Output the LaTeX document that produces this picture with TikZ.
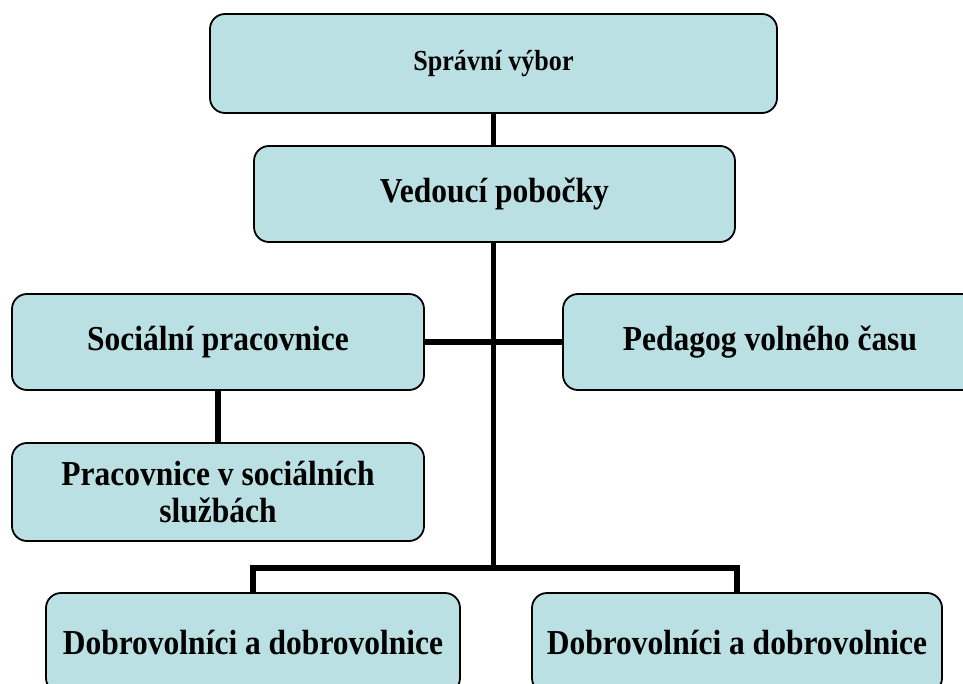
\documentclass[tikz,border=0pt]{standalone}
\usepackage{fontspec}
\newfontfamily\cf[FakeStretch=0.9]{Liberation Serif}
\definecolor{boxfill}{RGB}{187,224,227}
\begin{document}
\begin{tikzpicture}[x=1pt,y=-1pt,
  orgbox/.style={draw=black, line width=1.8pt, fill=boxfill, rounded corners=15pt,
    inner sep=0pt, align=center, font=\cf\bfseries\fontsize{35}{37}\selectfont},
  link/.style={draw=black, line width=5.5pt, line join=miter}]
\useasboundingbox (0,0) rectangle (963,684);
\clip (0,0) rectangle (963,684);
\fill[white] (0,0) rectangle (963,684);

\node[orgbox, minimum width=567pt, minimum height=99pt,
  font=\cf\bfseries\fontsize{29}{31}\selectfont] (sv) at (493.5,63.5) {Správní výbor};
\node[orgbox, minimum width=481pt, minimum height=96pt] (vp) at (494.5,194) {Vedoucí pobočky};
\node[orgbox, minimum width=412pt, minimum height=96pt] (sp) at (218,342) {Sociální pracovnice};
\node[orgbox, minimum width=414pt, minimum height=96pt] (pv) at (770,342) {Pedagog volného času};
\node[orgbox, minimum width=412pt, minimum height=98pt] (ps) at (218,492) {Pracovnice v sociálních\\službách};
\node[orgbox, minimum width=414pt, minimum height=100pt] (d1) at (253,643) {Dobrovolníci a dobrovolnice};
\node[orgbox, minimum width=410pt, minimum height=100pt] (d2) at (737,643) {Dobrovolníci a dobrovolnice};

\coordinate (j) at (493.5,568);
\draw[link] (sv.south) -- (sv.south |- vp.north);
\draw[link] (sv.south |- vp.south) -- (j);
\draw[link] (sp.east) -- (pv.west);
\draw[link] (sp.south) -- (ps.north);
\draw[link] (j) -| (d1.north);
\draw[link] (j) -| (d2.north);
\end{tikzpicture}
\end{document}
